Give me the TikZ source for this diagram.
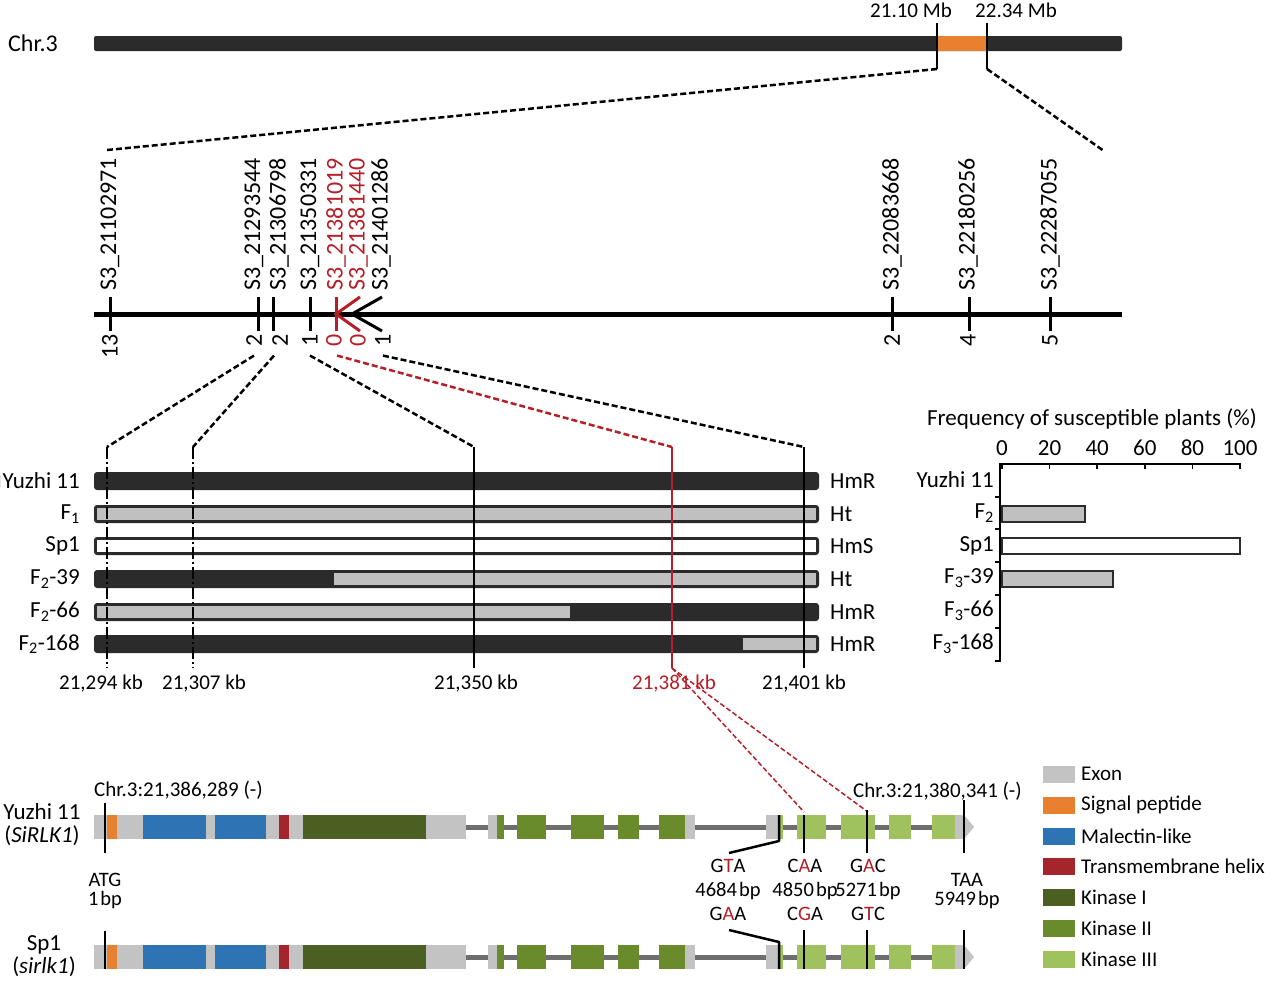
\documentclass[tikz,border=0pt]{standalone}
\usepackage{fontspec}
\setmainfont{Carlito}
\usetikzlibrary{calc}
\definecolor{dk}{HTML}{2B2B2B}
\definecolor{hg}{HTML}{C0C0C0}
\definecolor{exg}{HTML}{C3C3C3}
\definecolor{sigor}{HTML}{E8812F}
\definecolor{malb}{HTML}{2E74B5}
\definecolor{tmr}{HTML}{A4252B}
\definecolor{kI}{HTML}{4B5F23}
\definecolor{kII}{HTML}{6A8B2B}
\definecolor{kIII}{HTML}{9FC25E}
\definecolor{rd}{HTML}{B51F27}
\definecolor{intr}{HTML}{6E6E6E}
\newcommand\genestruct[1]{%
  \draw[intr, line width=5pt] (466,#1) -- (966,#1);
  \fill[exg] (94,#1-12) rectangle (466,#1+12);
  \foreach \a/\b/\c in {107/117/sigor,143/206/malb,215/266/malb,279/289/tmr,303/426/kI,
      488/497/exg,497/504/kII,517/546/kII,571/604/kII,618/639/kII,659/685/kII,685/695/exg,
      766/779/exg,779/783/kIII,797/826/kIII,841/875/kIII,889/911/kIII,932/955/kIII,955/964/exg}
    {\fill[\c] (\a,#1-12) rectangle (\b,#1+12);}
  \fill[exg] (964,#1-12) -- (974,#1) -- (964,#1+12) -- cycle;
}
\newcommand\bpsp{\hspace{2pt}}
\begin{document}
\begin{tikzpicture}[x=1pt,y=-1pt,
  every node/.style={font=\fontsize{21}{22}\selectfont, inner sep=0pt},
  big/.style={font=\fontsize{23}{23}\selectfont},
  mlabel/.style={rotate=90, anchor=west, font=\fontsize{24}{24}\selectfont},
  clabel/.style={rotate=90, anchor=east, font=\fontsize{24}{24}\selectfont},
  zoomdash/.style={dash pattern=on 6pt off 3pt, line width=2.5pt},
  dashdot/.style={dash pattern=on 12pt off 3pt on 2pt off 3pt, line width=2.5pt},
  tick/.style={line width=3pt},
  hbar/.style={fill=dk, rounded corners=3pt},
  cbar/.style={draw=dk, line width=2.5pt},
  mut/.style={line width=2.5pt, line join=round},
  stack/.style={align=center, font=\fontsize{20.5}{24}\selectfont},
  leg/.style={minimum width=32pt, minimum height=17pt}
]
\useasboundingbox (0,0) rectangle (1274,986);

% ---------- chromosome ----------
\node[anchor=west, font=\fontsize{24}{24}\selectfont] (chr) at (8,43) {Chr.3};
\fill[dk, rounded corners=2pt] (94,36) rectangle (1122,51);
\fill[sigor] (937,36) rectangle (987,51);
\node (mbA) at (911,10) {21.10 Mb};
\node (mbB) at (1016,10) {22.34 Mb};
\coordinate (tA) at (937,69);
\coordinate (tB) at (987,69);
\coordinate (zA) at (107,150);
\coordinate (zB) at (1104,151);
\draw[line width=2.5pt] (937,23) -- (tA);
\draw[line width=2.5pt] (987,23) -- (tB);
\draw[zoomdash] (tA) -- (zA);
\draw[zoomdash] (tB) -- (zB);

% ---------- marker map ----------
\draw[line width=5pt] (94,314) -- (1122,314);
\foreach \x in {110,258,273,310,892,969,1050}
  \draw[tick] (\x,297) -- (\x,331);
\draw[tick, rd] (336,297) -- (336,331);
\draw[tick, rd] (360,297) -- (336,314) -- (360,331);
\draw[tick] (382,297) -- (352,314) -- (382,331);

\foreach \n/\x/\t/\c/\cx/\cc in {
   m1/110/21102971/black/110/13, m2/254/21293544/black/254/2, m3/279/21306798/black/280/2,
   m4/310/21350331/black/310/1, m5/336/21381019/rd/334/0, m6/358/21381440/rd/358/0,
   m7/381/21401286/black/383/1, m8/892/22083668/black/892/2, m9/968/22180256/black/968/4,
   m10/1050/22287055/black/1050/5}
{
  \node[mlabel, text=\c] (\n) at (\x,291) {S3\_\t};
  \node[clabel, text=\c] (c\n) at (\cx,334) {\cc};
}

% connectors to haplotypes
\coordinate (v1) at (107,447);
\coordinate (v2) at (193,447);
\coordinate (v3) at (474,447);
\coordinate (v4) at (672,447);
\coordinate (v5) at (804,447);
\coordinate (w1) at (107,668);
\coordinate (w2) at (193,668);
\coordinate (w3) at (474,668);
\coordinate (w4) at (672,668);
\coordinate (w5) at (804,668);

% ---------- haplotype bars ----------
\foreach \n/\y/\lab/\gt/\ia/\ib/\ic in {
   h1/481/Yuzhi 11/HmR/0/0/dk,
   h2/514/F\textsubscript{1}/Ht/97/816/hg,
   h3/546/Sp1/HmS/97/816/white,
   h4/579/F\textsubscript{2}-39/Ht/334/816/hg,
   h5/612/F\textsubscript{2}-66/HmR/97/570/hg,
   h6/644/F\textsubscript{2}-168/HmR/743/816/hg}
{
  \fill[hbar] (94,\y-9) rectangle (819,\y+9);
  \fill[\ic] (\ia,\y-6) rectangle (\ib,\y+6);
  \node[big, anchor=east] (\n) at (80,\y) {\lab};
  \node[big, anchor=west] (g\n) at (830,\y) {\gt};
}

\draw[zoomdash] ($(cm2.west)+(0,9)$) -- (v1);
\draw[zoomdash] ($(cm3.west)+(-6,9)$) -- (v2);
\draw[zoomdash] ($(cm4.west)+(0,9)$) -- (v3);
\draw[zoomdash, rd] ($(cm5.west)+(3,9)$) -- (v4);
\draw[zoomdash] ($(cm7.west)+(0,9)$) -- (v5);
\draw[dashdot] (v1) -- (w1);
\draw[dashdot] (v2) -- (w2);
\draw[line width=2.5pt] (v3) -- (w3);
\draw[line width=2.5pt, rd] (v4) -- (w4);
\draw[line width=2.5pt] (v5) -- (w5);

\node (k1) at (101,684) {21,294 kb};
\node (k2) at (204,684) {21,307 kb};
\node (k3) at (476,684) {21,350 kb};
\node[text=rd] (k4) at (674,684) {21,381 kb};
\node (k5) at (804,684) {21,401 kb};

% ---------- bar chart ----------
\node[big] (ftitle) at (1092,419) {Frequency of susceptible plants (\%)};
\draw[line width=2pt] (1000,464) -- (1241,464);
\draw[line width=2pt] (1000,463) -- (1000,662);
\foreach \v [count=\i from 0] in {0,20,40,60,80,100} {
  \node[big] (ax\i) at (1002+2.38*\v,448) {\v};
  \draw[line width=1.5pt] (1002+2.38*\v,464) -- (1002+2.38*\v,469);
}
\foreach \y in {497,529,562,595,628,661}
  \draw[line width=1.5pt] (995,\y) -- (1000,\y);
\foreach \n/\y/\lab in {b1/480/Yuzhi 11, b2/513/F\textsubscript{2}, b3/546/Sp1,
   b4/578/F\textsubscript{3}-39, b5/611/F\textsubscript{3}-66, b6/644/F\textsubscript{3}-168}
  \node[big, anchor=east] (\n) at (994,\y) {\lab};
\draw[cbar, fill=hg] (1002,506) rectangle (1085,522);
\draw[cbar, fill=white] (1002,538) rectangle (1240,554);
\draw[cbar, fill=hg] (1002,571) rectangle (1113,587);

% ---------- gene structures ----------
\genestruct{827}
\genestruct{957}

\node[big, align=center] (gY) at (42,825) {Yuzhi 11\\(\textit{SiRLK1})};
\node[big, align=center] (gS) at (44,956) {Sp1\\(\textit{sirlk1})};
\node[anchor=west] (pos1) at (94,790) {Chr.3:21,386,289 (-)};
\node[anchor=west] (pos2) at (853,791) {Chr.3:21,380,341 (-)};

\coordinate (r1) at (804,812);
\coordinate (r2) at (868,812);
\draw[rd, line width=1.5pt, dash pattern=on 5pt off 2.5pt] (w4) -- (r1);
\draw[rd, line width=1.5pt, dash pattern=on 5pt off 2.5pt] (w4) -- (r2);

% mutation marks (Yuzhi 11)
\draw[mut] (105,803) -- (105,853);
\draw[mut] (779,815) -- (779,841) -- (729,853);
\draw[mut] (804,815) -- (804,853);
\draw[mut] (867,810) -- (867,853);
\draw[mut] (964,800) -- (964,853);
% mutation marks (Sp1)
\draw[mut] (105,931) -- (105,969);
\draw[mut] (729,930) -- (779,942) -- (779,969);
\draw[mut] (804,930) -- (804,969);
\draw[mut] (867,930) -- (867,969);
\draw[mut] (964,930) -- (964,969);

\node[stack, font=\fontsize{20.5}{19.5}\selectfont] (atg) at (105,891) {ATG\\1\bpsp bp};
\node[stack] (s1) at (728,890) {G{\color{rd}T}A\\4684\bpsp bp\\G{\color{rd}A}A};
\node[stack] (s2) at (805,890) {C{\color{rd}A}A\\4850\bpsp bp\\C{\color{rd}G}A};
\node[stack] (s3) at (868,890) {G{\color{rd}A}C\\5271\bpsp bp\\G{\color{rd}T}C};
\node[stack, font=\fontsize{20.5}{19.5}\selectfont] (taa) at (967,891) {TAA\\5949\bpsp bp};

% ---------- legend ----------
\foreach \n/\y/\c/\t in {l1/774/exg/Exon, l2/805/sigor/Signal peptide, l3/836/malb/Malectin-like,
   l4/866/tmr/Transmembrane helix, l5/897/kI/Kinase I, l6/928/kII/Kinase II, l7/959/kIII/Kinase III}
{
  \node[leg, fill=\c] (\n) at (1059,\y) {};
  \node[anchor=west] (t\n) at (1081,\y) {\t};
}
\end{tikzpicture}
\end{document}
